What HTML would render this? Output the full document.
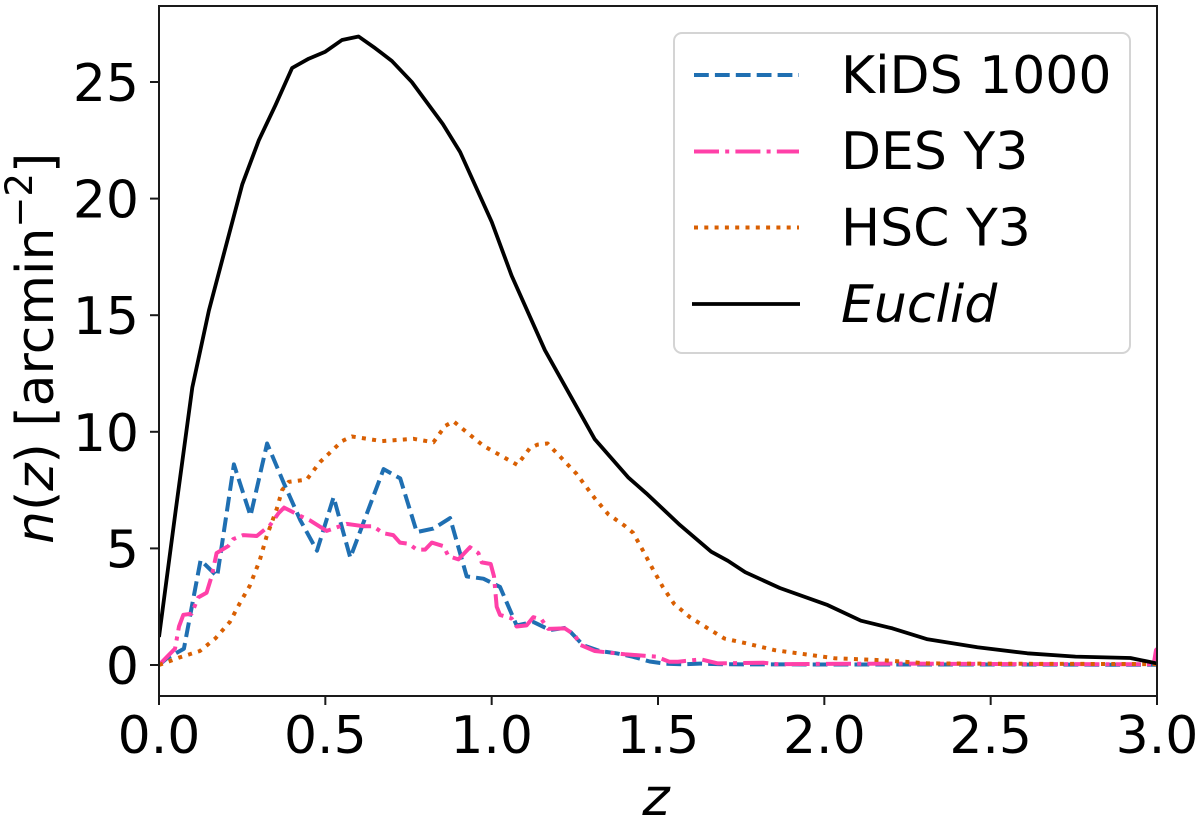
<!DOCTYPE html>
<html lang="en">
<head>
<meta charset="utf-8">
<title>n(z) chart</title>
<style>
html,body{margin:0;padding:0;background:#fff;}
#chart{display:block;width:1200px;height:820px;font-family:"DejaVu Sans","Liberation Sans",sans-serif;}
text{fill:#000;}
</style>
</head>
<body>
<svg id="chart" xmlns="http://www.w3.org/2000/svg" width="1200" height="820" viewBox="0 0 1200 820">
  <defs>
    <clipPath id="plot-clip"><rect x="159" y="6" width="998" height="690"/></clipPath>
  </defs>
  <rect x="159" y="6" width="998" height="690" fill="#fff"/>
  <g id="series" clip-path="url(#plot-clip)"></g>
  <g id="ticks"></g>
  <rect x="159" y="6" width="998" height="690" fill="none" stroke="#1a1a1a" stroke-width="2"/>

  <text x="656" y="815" font-size="52" font-style="italic" text-anchor="middle">z</text>
  <text transform="translate(53,544) rotate(-90)" font-size="52"><tspan font-style="italic">n</tspan>(<tspan font-style="italic">z</tspan>) [arcmin<tspan font-size="37" dy="-21">−2</tspan><tspan dy="21">]</tspan></text>

  <g>
    <rect x="674" y="33" width="456" height="320" rx="8" ry="8" fill="#fff" fill-opacity="0.9" stroke="#d4d4d4" stroke-width="2"/>
    <line x1="694" y1="75" x2="799" y2="75" stroke="#1f6fb2" stroke-width="4" stroke-dasharray="14.8 6.1"/>
    <text x="841" y="93" font-size="52">KiDS 1000</text>
    <line x1="694" y1="151.5" x2="799" y2="151.5" stroke="#ff40a8" stroke-width="4" stroke-dasharray="25 6.2 4 6.2"/>
    <text x="841" y="169" font-size="52">DES Y3</text>
    <line x1="694" y1="227.5" x2="799" y2="227.5" stroke="#d95f02" stroke-width="4" stroke-dasharray="4 6.3"/>
    <text x="841" y="245.5" font-size="52">HSC Y3</text>
    <line x1="692" y1="304" x2="800" y2="304" stroke="#000" stroke-width="3.8"/>
    <text x="841" y="322" font-size="52" font-style="italic">Euclid</text>
  </g>
</svg>
<script>
const xTickLabels = ["0.0","0.5","1.0","1.5","2.0","2.5","3.0"];
const xTickValues = [0,0.5,1,1.5,2,2.5,3];
const yTickLabels = ["0","5","10","15","20","25"];
const yTickValues = [0,5,10,15,20,25];

const kidsZ = [0,0.025,0.075,0.125,0.175,0.225,0.275,0.325,0.375,0.425,0.475,0.525,0.575,0.625,0.675,0.725,0.775,0.825,0.875,0.925,0.975,1.025,1.075,1.125,1.175,1.225,1.275,1.325,1.375,1.425,1.475,1.525,1.575,1.625,1.7,2,2.5,3];
const kidsN = [0,0.3,0.7,4.5,3.8,8.6,6.4,9.5,7.8,6.2,4.9,7.2,4.6,6.5,8.4,8.0,5.7,5.85,6.3,3.8,3.7,3.35,1.7,1.85,1.5,1.6,0.85,0.6,0.5,0.35,0.15,0.05,0.03,0.06,0.03,0.02,0.02,0.01];

const desZ = [0,0.048,0.06,0.073,0.098,0.118,0.143,0.158,0.173,0.208,0.223,0.253,0.294,0.334,0.359,0.376,0.424,0.454,0.504,0.564,0.614,0.644,0.674,0.704,0.724,0.75,0.775,0.8,0.82,0.855,0.87,0.9,0.935,0.96,0.97,0.997,1.007,1.015,1.025,1.06,1.075,1.105,1.125,1.15,1.17,1.22,1.25,1.266,1.31,1.4,1.494,1.534,1.56,1.63,1.68,1.816,1.856,2.2,2.6,2.99,2.997,3];
const desN = [0,0.7,1.65,2.15,2.2,2.9,3.1,3.8,4.8,5.1,5.4,5.57,5.53,6,6.5,6.75,6.4,6.2,5.75,6.05,5.95,5.95,5.65,5.57,5.25,5.2,4.95,4.95,5.25,5.1,4.67,4.53,5.05,4.8,4.4,4.33,3.8,2.5,2.15,2,1.65,1.7,2.05,1.95,1.55,1.57,1.29,0.86,0.6,0.46,0.36,0.14,0.14,0.24,0.07,0.1,0.04,0.06,0.04,0.03,0.64,0.7];

const hscZ = [0,0.063,0.123,0.17,0.213,0.243,0.273,0.303,0.323,0.354,0.37,0.39,0.444,0.484,0.55,0.58,0.67,0.765,0.825,0.86,0.885,0.975,1.077,1.115,1.138,1.168,1.255,1.31,1.35,1.4,1.425,1.455,1.485,1.515,1.548,1.596,1.65,1.7,1.762,1.85,2.03,2.18,2.31,2.6,3];
const hscN = [0,0.33,0.6,1.15,1.85,2.65,3.4,4.5,5.5,6.7,7.5,7.85,7.95,8.7,9.6,9.8,9.6,9.7,9.55,10.25,10.45,9.4,8.58,9.3,9.45,9.5,8.2,7.15,6.47,5.97,5.67,4.9,4.1,3.33,2.63,2.05,1.57,1.13,0.94,0.64,0.29,0.2,0.07,0.05,0.04];

const euclidZ = [0,0.05,0.1,0.15,0.2,0.25,0.3,0.35,0.4,0.45,0.5,0.55,0.6,0.65,0.7,0.76,0.853,0.905,1,1.06,1.16,1.31,1.41,1.465,1.566,1.66,1.71,1.762,1.866,2.01,2.11,2.205,2.31,2.46,2.61,2.755,2.92,3];
const euclidN = [1.2,6.6,11.9,15.2,17.9,20.6,22.5,24,25.6,26,26.3,26.8,26.95,26.45,25.9,25,23.2,22,19,16.7,13.5,9.68,8.05,7.36,6,4.86,4.47,3.98,3.3,2.57,1.9,1.57,1.1,0.76,0.5,0.36,0.3,0.07];

const SVG_NS = "http://www.w3.org/2000/svg";
function xScale(z){ return 159 + z * (998 / 3); }
function yScale(v){ return 665 - v * 23.32; }

const seriesGroup = document.getElementById("series");
const tickGroup = document.getElementById("ticks");

function buildPoints(zs, ns){
  return zs.map(function(z, i){ return xScale(z).toFixed(1) + "," + yScale(ns[i]).toFixed(1); }).join(" ");
}

const kidsLine = document.createElementNS(SVG_NS, "polyline");


kidsLine.setAttribute("points", buildPoints(kidsZ, kidsN));
kidsLine.setAttribute("fill", "none");
kidsLine.setAttribute("stroke", "#1f6fb2");
kidsLine.setAttribute("stroke-width", "4");
kidsLine.setAttribute("stroke-dasharray", "14.8 6.1");
kidsLine.setAttribute("stroke-linejoin", "round");
seriesGroup.appendChild(kidsLine);

const desLine = document.createElementNS(SVG_NS, "polyline");


desLine.setAttribute("points", buildPoints(desZ, desN));
desLine.setAttribute("fill", "none");
desLine.setAttribute("stroke", "#ff40a8");
desLine.setAttribute("stroke-width", "4");
desLine.setAttribute("stroke-dasharray", "25 6.2 4 6.2");
desLine.setAttribute("stroke-linejoin", "round");
seriesGroup.appendChild(desLine);

const hscLine = document.createElementNS(SVG_NS, "polyline");


hscLine.setAttribute("points", buildPoints(hscZ, hscN));
hscLine.setAttribute("fill", "none");
hscLine.setAttribute("stroke", "#d95f02");
hscLine.setAttribute("stroke-width", "4");
hscLine.setAttribute("stroke-dasharray", "4 6.3");
hscLine.setAttribute("stroke-linejoin", "round");
seriesGroup.appendChild(hscLine);

const euclidLine = document.createElementNS(SVG_NS, "polyline");


euclidLine.setAttribute("points", buildPoints(euclidZ, euclidN));
euclidLine.setAttribute("fill", "none");
euclidLine.setAttribute("stroke", "#000");
euclidLine.setAttribute("stroke-width", "3.8");
euclidLine.setAttribute("stroke-linejoin", "round");
seriesGroup.appendChild(euclidLine);

xTickValues.forEach(function(value, i){
  const px = xScale(value);
  const mark = document.createElementNS(SVG_NS, "line");
  
  
  mark.setAttribute("x1", px);
  mark.setAttribute("x2", px);
  mark.setAttribute("y1", 696);
  mark.setAttribute("y2", 705);
  mark.setAttribute("stroke", "#1a1a1a");
  mark.setAttribute("stroke-width", "2");
  tickGroup.appendChild(mark);
  const label = document.createElementNS(SVG_NS, "text");
  
  
  label.setAttribute("x", px);
  label.setAttribute("y", 753);
  label.setAttribute("font-size", "52");
  label.setAttribute("text-anchor", "middle");
  label.textContent = xTickLabels[i];
  tickGroup.appendChild(label);
});

yTickValues.forEach(function(value, i){
  const py = yScale(value);
  const mark = document.createElementNS(SVG_NS, "line");
  
  
  mark.setAttribute("x1", 150);
  mark.setAttribute("x2", 159);
  mark.setAttribute("y1", py);
  mark.setAttribute("y2", py);
  mark.setAttribute("stroke", "#1a1a1a");
  mark.setAttribute("stroke-width", "2");
  tickGroup.appendChild(mark);
  const label = document.createElementNS(SVG_NS, "text");
  
  
  label.setAttribute("x", 139);
  label.setAttribute("y", py + 19);
  label.setAttribute("font-size", "52");
  label.setAttribute("text-anchor", "end");
  label.textContent = yTickLabels[i];
  tickGroup.appendChild(label);
});
</script>
</body>
</html>
